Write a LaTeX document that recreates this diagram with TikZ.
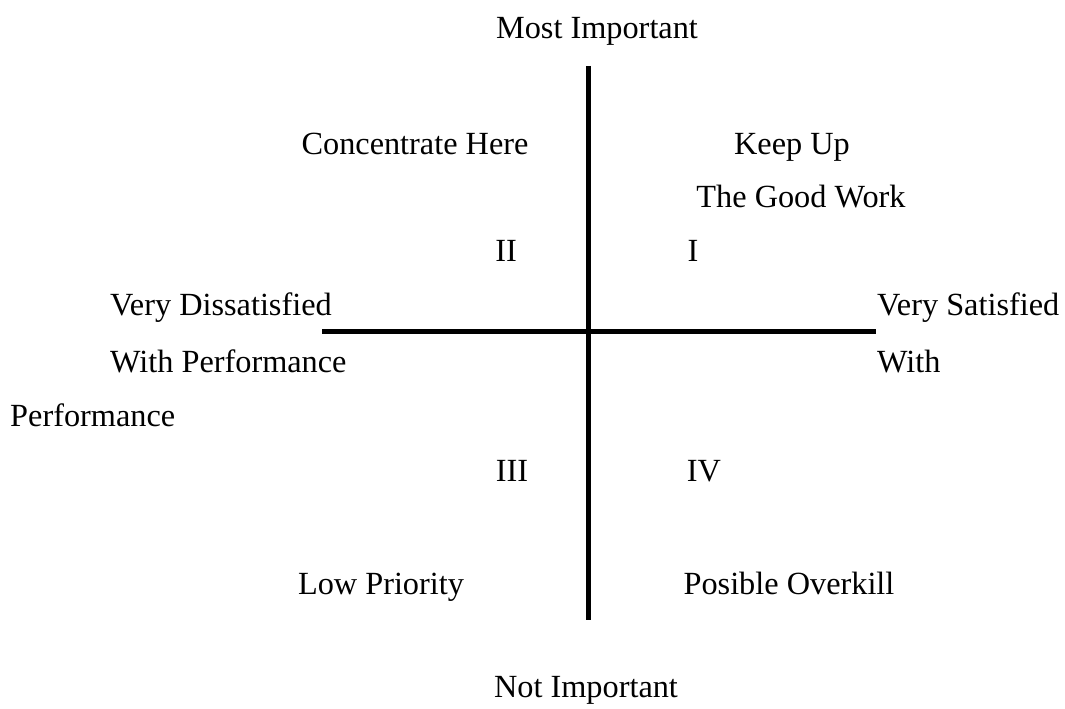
\documentclass[tikz,border=0pt]{standalone}
\usepackage{fontspec}
\setmainfont{Liberation Serif}
\begin{document}
\begin{tikzpicture}[x=1pt,y=-1pt,
  lbl/.style={inner sep=0pt,anchor=base,font=\fontsize{32.3}{36}\selectfont},
  lblw/.style={lbl,anchor=base west},
  axis/.style={line width=5pt,black}]
\useasboundingbox (0,0) rectangle (1065,709);
% axes
\coordinate (top) at (588,66);
\coordinate (bottom) at (588,620);
\coordinate (left) at (322,331);
\coordinate (right) at (876,331);
\draw[axis] (top) -- (bottom);
\draw[axis] (left) -- (right);
% axis labels
\node[lbl] (most) at (597,39) {Most Important};
\node[lbl] (notimp) at (586,697) {Not Important};
\node[lblw] (vdis) at (110,315) {Very Dissatisfied};
\node[lblw] (wperf) at (110,372) {With Performance};
\node[lblw] (perf) at (10,426) {Performance};
\node[lblw] (vsat) at (877,315) {Very Satisfied};
\node[lblw] (with) at (877,372) {With};
% quadrant labels
\node[lbl] (conc) at (415,154) {Concentrate Here};
\node[lbl] (keep) at (792,154) {Keep Up};
\node[lbl] (good) at (801,207) {The Good Work};
\node[lbl] (q2) at (506,261) {II};
\node[lbl] (q1) at (693,261) {I};
\node[lbl] (q3) at (512,481) {III};
\node[lbl] (q4) at (704,481) {IV};
\node[lbl] (low) at (381,594) {Low Priority};
\node[lbl] (over) at (789,594) {Posible Overkill};
\end{tikzpicture}
\end{document}
